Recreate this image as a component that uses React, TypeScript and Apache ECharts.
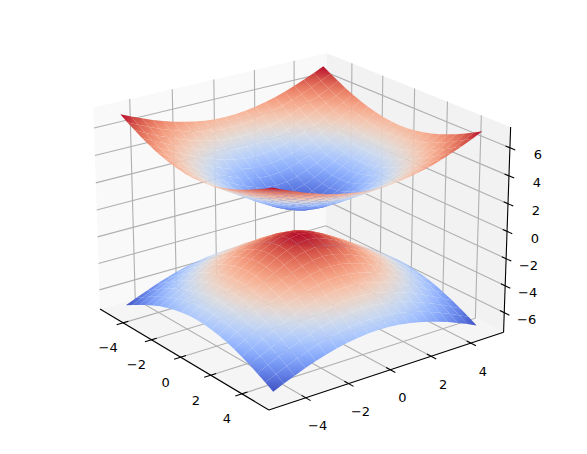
import React, { useEffect, useRef } from "react";
import * as echarts from "echarts";

// Surface heights are estimates, on a grid coarser than the reference's.
// One quadrant is listed (|y| by row, |x| by column); the picture is mirror-symmetric, so it is mirrored when drawn.
const gridStep = [0, 0.49, 0.99, 1.48, 1.97, 2.47, 2.96, 3.45, 3.94, 4.44, 4.93];
const upperZ = [
  [0.99, 1.11, 1.40, 1.78, 2.22, 2.66, 3.13, 3.60, 4.08, 4.56, 5.05],
  [1.11, 1.21, 1.49, 1.85, 2.27, 2.71, 3.17, 3.63, 4.11, 4.59, 5.07],
  [1.40, 1.49, 1.71, 2.04, 2.43, 2.84, 3.29, 3.73, 4.20, 4.67, 5.15],
  [1.78, 1.85, 2.04, 2.33, 2.66, 3.05, 3.47, 3.90, 4.35, 4.80, 5.27],
  [2.22, 2.27, 2.43, 2.66, 2.97, 3.32, 3.70, 4.11, 4.53, 4.97, 5.43],
  [2.66, 2.71, 2.84, 3.05, 3.32, 3.63, 3.99, 4.38, 4.77, 5.19, 5.62],
  [3.13, 3.17, 3.29, 3.47, 3.70, 3.99, 4.32, 4.67, 5.05, 5.45, 5.86],
  [3.60, 3.63, 3.73, 3.90, 4.11, 4.38, 4.67, 5.00, 5.36, 5.73, 6.12],
  [4.08, 4.11, 4.20, 4.35, 4.53, 4.77, 5.05, 5.36, 5.68, 6.04, 6.42],
  [4.56, 4.59, 4.67, 4.80, 4.97, 5.19, 5.45, 5.73, 6.04, 6.38, 6.73],
  [5.05, 5.07, 5.15, 5.27, 5.43, 5.62, 5.86, 6.12, 6.42, 6.73, 7.07],
];
const lowerZ = [
  [-0.99, -1.11, -1.40, -1.78, -2.22, -2.66, -3.13, -3.60, -4.08, -4.56, -5.05],
  [-1.11, -1.21, -1.49, -1.85, -2.27, -2.71, -3.17, -3.63, -4.11, -4.59, -5.07],
  [-1.40, -1.49, -1.71, -2.04, -2.43, -2.84, -3.29, -3.73, -4.20, -4.67, -5.15],
  [-1.78, -1.85, -2.04, -2.33, -2.66, -3.05, -3.47, -3.90, -4.35, -4.80, -5.27],
  [-2.22, -2.27, -2.43, -2.66, -2.97, -3.32, -3.70, -4.11, -4.53, -4.97, -5.43],
  [-2.66, -2.71, -2.84, -3.05, -3.32, -3.63, -3.99, -4.38, -4.77, -5.19, -5.62],
  [-3.13, -3.17, -3.29, -3.47, -3.70, -3.99, -4.32, -4.67, -5.05, -5.45, -5.86],
  [-3.60, -3.63, -3.73, -3.90, -4.11, -4.38, -4.67, -5.00, -5.36, -5.73, -6.12],
  [-4.08, -4.11, -4.20, -4.35, -4.53, -4.77, -5.05, -5.36, -5.68, -6.04, -6.42],
  [-4.56, -4.59, -4.67, -4.80, -4.97, -5.19, -5.45, -5.73, -6.04, -6.38, -6.73],
  [-5.05, -5.07, -5.15, -5.27, -5.43, -5.62, -5.86, -6.12, -6.42, -6.73, -7.07],
];
const xyTicks = [-4, -2, 0, 2, 4];
const zTicks = [-6, -4, -2, 0, 2, 4, 6];

const coolwarm = [
  [59,76,192],[68,90,204],[77,104,215],[87,117,225],[98,130,234],[108,142,241],[119,154,247],[130,165,251],
  [141,176,254],[152,185,255],[163,194,255],[174,201,253],[184,208,249],[194,213,244],[204,217,238],[213,219,230],
  [221,221,221],[229,216,209],[236,211,197],[241,204,185],[245,196,173],[247,187,160],[247,177,148],[247,166,135],
  [244,154,123],[241,141,111],[236,127,99],[229,112,88],[222,96,77],[213,80,66],[203,62,56],[192,40,47],[180,4,38],
];
const cm = (t: number) => {
  const f = Math.max(0, Math.min(1, t)) * 32;
  const i = Math.min(31, Math.floor(f));
  const k = f - i;
  const c = coolwarm[i].map((v, n) => Math.round(v + (coolwarm[i + 1][n] - v) * k));
  return `rgb(${c[0]},${c[1]},${c[2]})`;
};

const W = 587, H = 454;
const cam = { el: 21.818, az: -37.012, D: 9.851, sx: 246.207, sy: 245.547, ox: 299.6, oy: 220.551, xl: 5.678, zl: 7.468 };
const proj = (X: number, Y: number, Z: number) => {
  const e = (cam.el * Math.PI) / 180, a = (cam.az * Math.PI) / 180;
  const ce = Math.cos(e), se = Math.sin(e), ca = Math.cos(a), sa = Math.sin(a);
  const dx = (X / cam.xl) * 0.595, dy = (Y / cam.xl) * 0.595, dz = (Z / cam.zl) * 0.446;
  const xp = -sa * dx + ca * dy;
  const yp = -se * ca * dx - se * sa * dy + ce * dz;
  const d = ce * ca * dx + ce * sa * dy + se * dz;
  return [xp / (1 - d / cam.D), yp / (1 - d / cam.D), d];
};

export default function App() {
  const ref = useRef<HTMLDivElement>(null);
  useEffect(() => {
    document.body.style.margin = "0";
    const chart = echarts.init(ref.current!, undefined, { renderer: "svg" });
    const xl = cam.xl, zl = cam.zl;
    const pr = proj;
    const panes = [
      { pts: [[-xl,-xl,-zl],[-xl,xl,-zl],[-xl,xl,zl],[-xl,-xl,zl]], fill: "#f9f9f9" },
      { pts: [[-xl,xl,-zl],[xl,xl,-zl],[xl,xl,zl],[-xl,xl,zl]], fill: "#f2f2f2" },
      { pts: [[-xl,-xl,-zl],[xl,-xl,-zl],[xl,xl,-zl],[-xl,xl,-zl]], fill: "#f5f5f5" },
    ];
    const lines: { pts: number[][]; color: string; w: number }[] = [];
    const grid = "#b0b0b0";
    xyTicks.forEach((t) => {
      lines.push({ pts: [[t,-xl,-zl],[t,xl,-zl],[t,xl,zl]], color: grid, w: 1.1 });
      lines.push({ pts: [[xl,t,-zl],[-xl,t,-zl],[-xl,t,zl]], color: grid, w: 1.1 });
    });
    zTicks.forEach((t) => {
      lines.push({ pts: [[-xl,-xl,t],[-xl,xl,t],[xl,xl,t]], color: grid, w: 1.1 });
    });
    const axes: { pts: number[][]; color: string; w: number }[] = [
      { pts: [[-xl,-xl,-zl],[xl,-xl,-zl]], color: "#000", w: 1.1 },
      { pts: [[xl,-xl,-zl],[xl,xl,-zl]], color: "#000", w: 1.1 },
      { pts: [[xl,xl,-zl],[xl,xl,zl]], color: "#000", w: 1.1 },
    ];
    xyTicks.forEach((t) => {
      axes.push({ pts: [[t,-xl-0.3,-zl],[t,-xl+0.25,-zl]], color: "#000", w: 1.1 });
      axes.push({ pts: [[xl+0.3,t,-zl],[xl-0.25,t,-zl]], color: "#000", w: 1.1 });
    });
    zTicks.forEach((t) => {
      axes.push({ pts: [[xl+0.3,xl,t],[xl-0.25,xl,t]], color: "#000", w: 1.1 });
    });

    const cells: { pts: number[][]; zmin: number; zmax: number; depth: number }[] = [];
    const n = gridStep.length;
    const gridAt = (k: number) => (k < n - 1 ? -gridStep[n - 1 - k] : gridStep[k - (n - 1)]);
    const idx = (k: number) => Math.abs(k - (n - 1));
    [upperZ, lowerZ].forEach((tab) => {
      const flat = tab.flat();
      const zmin = Math.min(...flat), zmax = Math.max(...flat);
      for (let j = 0; j < 2 * n - 2; j++) {
        for (let i = 0; i < 2 * n - 2; i++) {
          const c = [[i,j],[i+1,j],[i+1,j+1],[i,j+1]].map(([a, b]) => [gridAt(a), gridAt(b), tab[idx(b)][idx(a)]]);
          const m = c.reduce((s, q) => [s[0]+q[0]/4, s[1]+q[1]/4, s[2]+q[2]/4], [0,0,0]);
          cells.push({ pts: c, zmin, zmax, depth: pr(m[0], m[1], m[2])[2] });
        }
      }
    });
    cells.sort((a, b) => a.depth - b.depth);

    const labels: { text: string; at: number[]; dx: number; dy: number; align: string }[] = [];
    const txt = (v: number) => (v < 0 ? "\u2212" + -v : String(v));
    xyTicks.forEach((t) => {
      labels.push({ text: txt(t), at: [t,-xl,-zl], dx: -15, dy: 25, align: "center" });
      labels.push({ text: txt(t), at: [xl,t,-zl], dx: 12, dy: 28, align: "center" });
    });
    zTicks.forEach((t) => {
      labels.push({ text: txt(t), at: [xl,xl,t], dx: 32, dy: 7, align: "right" });
    });

    const polyRender = (items: any[]) => (params: any, api: any) => {
      const it = items[params.dataIndex];
      const pts = it.pts.map((q: number[]) => { const r = pr(q[0], q[1], q[2]); return api.coord([r[0], r[1]]); });
      return { type: "polygon", shape: { points: pts }, style: { fill: it.fill, stroke: "none" } };
    };
    const lineRender = (items: any[]) => (params: any, api: any) => {
      const it = items[params.dataIndex];
      const pts = it.pts.map((q: number[]) => { const r = pr(q[0], q[1], q[2]); return api.coord([r[0], r[1]]); });
      return { type: "polyline", shape: { points: pts }, style: { fill: "none", stroke: it.color, lineWidth: it.w } };
    };
    const cellRender = (params: any, api: any) => {
      const it = cells[params.dataIndex];
      const pts = it.pts.map((q) => { const r = pr(q[0], q[1], q[2]); return api.coord([r[0], r[1]]); });
      const zs = it.pts.map((q) => q[2]);
      const t = (z: number) => (z - it.zmin) / (it.zmax - it.zmin);
      const cx = pts.reduce((s: number, q: number[]) => s + q[0] / 4, 0);
      const cy = pts.reduce((s: number, q: number[]) => s + q[1] / 4, 0);
      const cz = zs.reduce((s, v) => s + v / 4, 0);
      let sxx = 0, sxy = 0, syy = 0, sxz = 0, syz = 0;
      pts.forEach((q: number[], k: number) => {
        const x = q[0] - cx, y = q[1] - cy, z = zs[k] - cz;
        sxx += x * x; sxy += x * y; syy += y * y; sxz += x * z; syz += y * z;
      });
      const det = sxx * syy - sxy * sxy;
      let fill: any = cm(t(cz));
      const lo = Math.min(...zs), hi = Math.max(...zs);
      if (det > 0.5 && hi - lo > 1e-3) {
        const a = (syy * sxz - sxy * syz) / det, b = (sxx * syz - sxy * sxz) / det;
        const g2 = a * a + b * b;
        if (g2 > 1e-9) {
          fill = {
            type: "linear", global: true,
            x: cx + (a * (lo - cz)) / g2, y: cy + (b * (lo - cz)) / g2,
            x2: cx + (a * (hi - cz)) / g2, y2: cy + (b * (hi - cz)) / g2,
            colorStops: [{ offset: 0, color: cm(t(lo)) }, { offset: 1, color: cm(t(hi)) }],
          };
        }
      }
      return { type: "polygon", shape: { points: pts }, style: { fill, stroke: "none", opacity: 0.97 } };
    };
    const centre = (items: any[]) => items.map((it) => {
      const q = it.pts ? it.pts[0] : it.at;
      const r = pr(q[0], q[1], q[2]);
      return [r[0], r[1]];
    });
    const custom = (items: any[], renderItem: any) => ({
      type: "custom", coordinateSystem: "cartesian2d", renderItem, data: centre(items), clip: false, silent: true,
    });
    chart.setOption({
      animation: false,
      grid: { left: 0, right: 0, top: 0, bottom: 0 },
      xAxis: { type: "value", show: false, min: -cam.ox / cam.sx, max: (W - cam.ox) / cam.sx, scale: true },
      yAxis: { type: "value", show: false, min: (cam.oy - H) / cam.sy, max: cam.oy / cam.sy, scale: true },
      series: [
        custom(panes, polyRender(panes)),
        custom(lines, lineRender(lines)),
        custom(axes, lineRender(axes)),
        custom(cells, cellRender),
        custom(labels, (params: any, api: any) => {
          const it = labels[params.dataIndex];
          const r = pr(it.at[0], it.at[1], it.at[2]);
          const c = api.coord([r[0], r[1]]);
          return {
            type: "text", x: c[0] + it.dx, y: c[1] + it.dy,
            style: { text: it.text, fill: "#000", fontFamily: "DejaVu Sans", fontSize: 13, align: it.align, verticalAlign: "middle" },
          };
        }),
      ],
    });
    return () => chart.dispose();
  }, []);
  return <div ref={ref} style={{ position: "absolute", left: 0, top: 0, width: W, height: H }} />;
}
